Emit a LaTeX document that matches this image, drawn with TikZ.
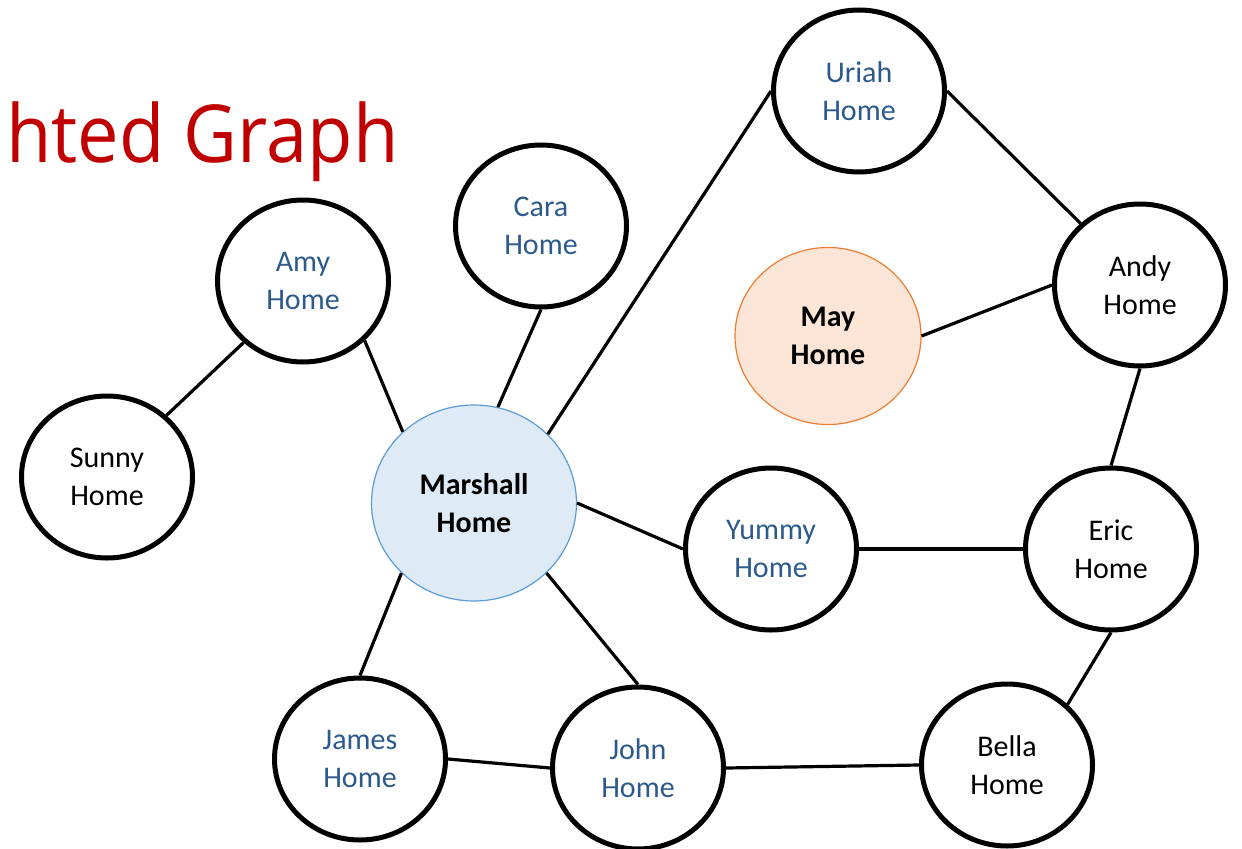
\documentclass[tikz,border=0pt]{standalone}
\usepackage{fontspec}
\setmainfont{Carlito}
\newfontfamily\titlefont{Open Sans}
\usetikzlibrary{shapes.geometric}
\definecolor{titlered}{HTML}{C00000}
\definecolor{nameblue}{HTML}{2C5A8C}
\definecolor{mfill}{HTML}{DEEBF7}
\definecolor{mline}{HTML}{5B9BD5}
\definecolor{yfill}{HTML}{FBE5D6}
\definecolor{yline}{HTML}{ED7D31}
\tikzset{
  home/.style={ellipse, draw=black, line width=3.75pt, fill=white, inner sep=0pt,
    minimum width=128.25pt, minimum height=121.5pt, align=center,
    font=\fontsize{22.5pt}{28.5pt}\selectfont},
  bluetext/.style={text=nameblue},
  hub/.style={ellipse, draw=mline, line width=0.9pt, fill=mfill, inner sep=0pt,
    minimum width=153.75pt, minimum height=147pt, align=center,
    font=\fontsize{22.5pt}{28.5pt}\selectfont\bfseries},
  lonely/.style={ellipse, draw=yline, line width=0.9pt, fill=yfill, inner sep=0pt,
    minimum width=139.5pt, minimum height=132.75pt, align=center,
    font=\fontsize{22.5pt}{28.5pt}\selectfont\bfseries},
  edge/.style={draw=black, line width=2.4pt}
}
\begin{document}
\begin{tikzpicture}[x=0.75pt,y=-0.75pt]
\useasboundingbox (0,0) rectangle (1242,849);
\node[anchor=base west, inner sep=0pt, text=titlered, font=\titlefont\fontsize{60pt}{72pt}\selectfont] (title) at (6,162) {\scalebox{0.925}[1]{hted Graph}};
% nodes
\node[home,bluetext] (uriah) at (859,91) {Uriah\\Home};
\node[home,bluetext] (cara) at (541,226) {Cara\\Home};
\node[home,bluetext] (amy) at (303,281) {Amy\\Home};
\node[home] (sunny) at (107,477) {Sunny\\Home};
\node[hub] (marshall) at (474,503) {Marshall\\Home};
\node[lonely] (may) at (828,336) {May\\Home};
\node[home] (andy) at (1140,285) {Andy\\Home};
\node[home,bluetext] (yummy) at (771,549) {Yummy\\Home};
\node[home] (eric) at (1111,549) {Eric\\Home};
\node[home,bluetext] (james) at (360,759) {James\\Home};
\node[home,bluetext] (john) at (638,768) {John\\Home};
\node[home] (bella) at (1007,765) {Bella\\Home};
% edges
\draw[edge] (amy.226) -- (sunny.46);
\draw[edge] (amy.-44) -- (marshall.135);
\draw[edge] (cara.-90) -- (marshall.76);
\draw[edge] (marshall.43) -- (uriah.180);
\draw[edge] (marshall.0) -- (yummy.180);
\draw[edge] (marshall.-136) -- (james.90);
\draw[edge] (marshall.-44) -- (john.90);
\draw[edge] (james.0) -- (john.180);
\draw[edge] (john.0) -- (bella.180);
\draw[edge] (yummy.0) -- (eric.180);
\draw[edge] (eric.90) -- (andy.-90);
\draw[edge] (eric.-90) -- (bella.45);
\draw[edge] (may.0) -- (andy.180);
\draw[edge] (uriah.0) -- (andy.134);
\end{tikzpicture}
\end{document}
